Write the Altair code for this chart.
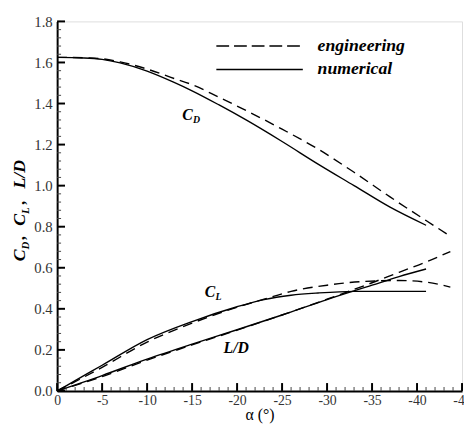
import altair as alt
import pandas as pd

# ---------------- data ----------------
alpha_cd_num = [0, -3, -5, -7, -10, -13, -15, -18, -21, -25, -29, -33, -37, -41]
cd_num = [1.625, 1.622, 1.615, 1.598, 1.558, 1.503, 1.462, 1.393, 1.32, 1.215, 1.105, 1.0, 0.895, 0.807]

alpha_cd_eng = [0, -3, -5, -7, -10, -13, -15, -18, -21, -25, -29, -33, -37, -41, -43.7]
cd_eng = [1.625, 1.623, 1.618, 1.603, 1.568, 1.522, 1.492, 1.43, 1.366, 1.275, 1.178, 1.065, 0.945, 0.83, 0.754]

alpha_cl_num = [0, -2, -5, -10, -15, -20, -23, -26, -29, -33, -41]
cl_num = [0, 0.05, 0.125, 0.25, 0.338, 0.41, 0.445, 0.466, 0.477, 0.485, 0.485]

alpha_cl_eng = [0, -2, -5, -10, -15, -20, -23, -26, -30, -34, -38, -41, -43.7]
cl_eng = [0, 0.045, 0.115, 0.238, 0.33, 0.408, 0.447, 0.485, 0.515, 0.533, 0.538, 0.53, 0.506]

alpha_ld_num = [0, -5, -10, -15, -20, -25, -30, -35, -38, -41]
ld_num = [0, 0.075, 0.155, 0.228, 0.298, 0.37, 0.445, 0.515, 0.557, 0.594]

alpha_ld_eng = [0, -5, -10, -15, -20, -25, -30, -35, -38, -41, -43.7]
ld_eng = [0, 0.07, 0.15, 0.224, 0.296, 0.37, 0.447, 0.527, 0.578, 0.628, 0.679]

x_major = [0, -5, -10, -15, -20, -25, -30, -35, -40, -45]
x_minor = [-i for i in range(0, 46)]
y_major = [0.0, 0.2, 0.4, 0.6, 0.8, 1.0, 1.2, 1.4, 1.6, 1.8]
y_minor = [round(0.04 * i, 2) for i in range(0, 46)]

# annotation anchors (data coordinates, left/baseline of the text)
lbl_cd = (-13.9, 1.32)
lbl_cl = (-16.4, 0.458)
lbl_ld = (-18.5, 0.185)

W, H = 412, 376
SERIF = "Liberation Serif"

xs = alt.Scale(domain=[-45, 0], reverse=True, nice=False, zero=False)
ys = alt.Scale(domain=[0, 1.8], nice=False, zero=False)

x_axis = alt.Axis(values=x_major, labelExpr="datum.value == 0 ? '0' : '-' + abs(datum.value)",
                  title="α (°)", titleFont=SERIF, titleFontSize=16, titleFontWeight="normal",
                  titleColor="black", titlePadding=-1, labelFont=SERIF, labelFontSize=14,
                  labelColor="#333", labelPadding=3, domainColor="black", domainWidth=2,
                  ticks=False, grid=False, labelFlush=False, labelOverlap=False)
y_axis = alt.Axis(values=y_major, format=".1f", title=None, labelFont=SERIF, labelFontSize=15,
                  labelColor="#333", labelPadding=5, domainColor="black", domainWidth=2,
                  ticks=False, grid=False, labelOverlap=False)

X = lambda: alt.X("alpha:Q", scale=xs, axis=x_axis)
Y = lambda: alt.Y("v:Q", scale=ys, axis=y_axis)


def series(a, v, dashed):
    df = pd.DataFrame({"alpha": a, "v": v})
    m = alt.Chart(df).mark_line(color="black", strokeWidth=1.4, interpolate="monotone",
                                **({"strokeDash": [10, 6]} if dashed else {}))
    return m.encode(x=X(), y=Y())


layers = [
    series(alpha_cd_num, cd_num, False),
    series(alpha_cd_eng, cd_eng, True),
    series(alpha_cl_num, cl_num, False),
    series(alpha_cl_eng, cl_eng, True),
    series(alpha_ld_num, ld_num, False),
    series(alpha_ld_eng, ld_eng, True),
]

# inward ticks
layers.append(alt.Chart(pd.DataFrame({"alpha": x_minor})).mark_rule(color="#444", strokeWidth=1).encode(
    x=X(), y=alt.value(H), y2=alt.value(H - 4)))
layers.append(alt.Chart(pd.DataFrame({"alpha": x_major})).mark_rule(color="black", strokeWidth=2).encode(
    x=X(), y=alt.value(H), y2=alt.value(H - 8)))
layers.append(alt.Chart(pd.DataFrame({"v": y_minor})).mark_rule(color="#444", strokeWidth=1).encode(
    y=Y(), x=alt.value(0), x2=alt.value(4)))
layers.append(alt.Chart(pd.DataFrame({"v": y_major})).mark_rule(color="black", strokeWidth=2).encode(
    y=Y(), x=alt.value(0), x2=alt.value(8)))


# curve labels with subscripts
def label(pos, main, sub=None, size=16):
    df = pd.DataFrame({"alpha": [pos[0]], "v": [pos[1]]})
    out = [alt.Chart(df).mark_text(text=main, font=SERIF, fontSize=size, fontStyle="italic",
                                   fontWeight="bold", align="left", baseline="alphabetic",
                                   color="black").encode(x=X(), y=Y())]
    if sub:
        out.append(alt.Chart(df).mark_text(text=sub, font=SERIF, fontSize=10, fontStyle="italic",
                                           fontWeight="bold", align="left", baseline="alphabetic",
                                           dx=11, dy=3, color="black").encode(x=X(), y=Y()))
    return out


layers += label(lbl_cd, "C", "D")
layers += label(lbl_cl, "C", "L")
layers += label(lbl_ld, "L/D")

# legend
one = pd.DataFrame({"k": [0]})
layers.append(alt.Chart(one).mark_rule(color="black", strokeWidth=1.6, strokeDash=[13, 5]).encode(
    x=alt.value(162), x2=alt.value(250), y=alt.value(25)))
layers.append(alt.Chart(one).mark_rule(color="black", strokeWidth=1.6).encode(
    x=alt.value(162), x2=alt.value(250), y=alt.value(49)))
for txt, yy in [("engineering", 25), ("numerical", 49)]:
    layers.append(alt.Chart(one).mark_text(text=txt, font=SERIF, fontSize=18, fontStyle="italic",
                                           fontWeight="bold", align="left", baseline="middle",
                                           color="black").encode(x=alt.value(265), y=alt.value(yy)))

# rotated y-axis title: C_D , C_L , L/D
ytitle = [("C", 18, -33, 244), ("D", 11, -29, 232), (",", 17, -33, 222),
          ("C", 18, -33, 208), ("L", 11, -29, 196), (",", 17, -33, 186),
          ("L/D", 18, -33, 170)]
for txt, fs, xx, yy in ytitle:
    layers.append(alt.Chart(one).mark_text(text=txt, font=SERIF, fontSize=fs, fontStyle="italic",
                                           fontWeight="bold", align="left", baseline="alphabetic",
                                           angle=270, color="black").encode(
        x=alt.value(xx), y=alt.value(yy)))

chart = alt.layer(*layers).properties(
    width=W, height=H,
    autosize=alt.AutoSizeParams(type="none"),
    padding={"left": 50, "top": 10, "right": 2, "bottom": 30},
).configure_view(stroke=None).configure(background="white")

chart.save("out.html", embed_options={"renderer": "svg", "actions": False})
